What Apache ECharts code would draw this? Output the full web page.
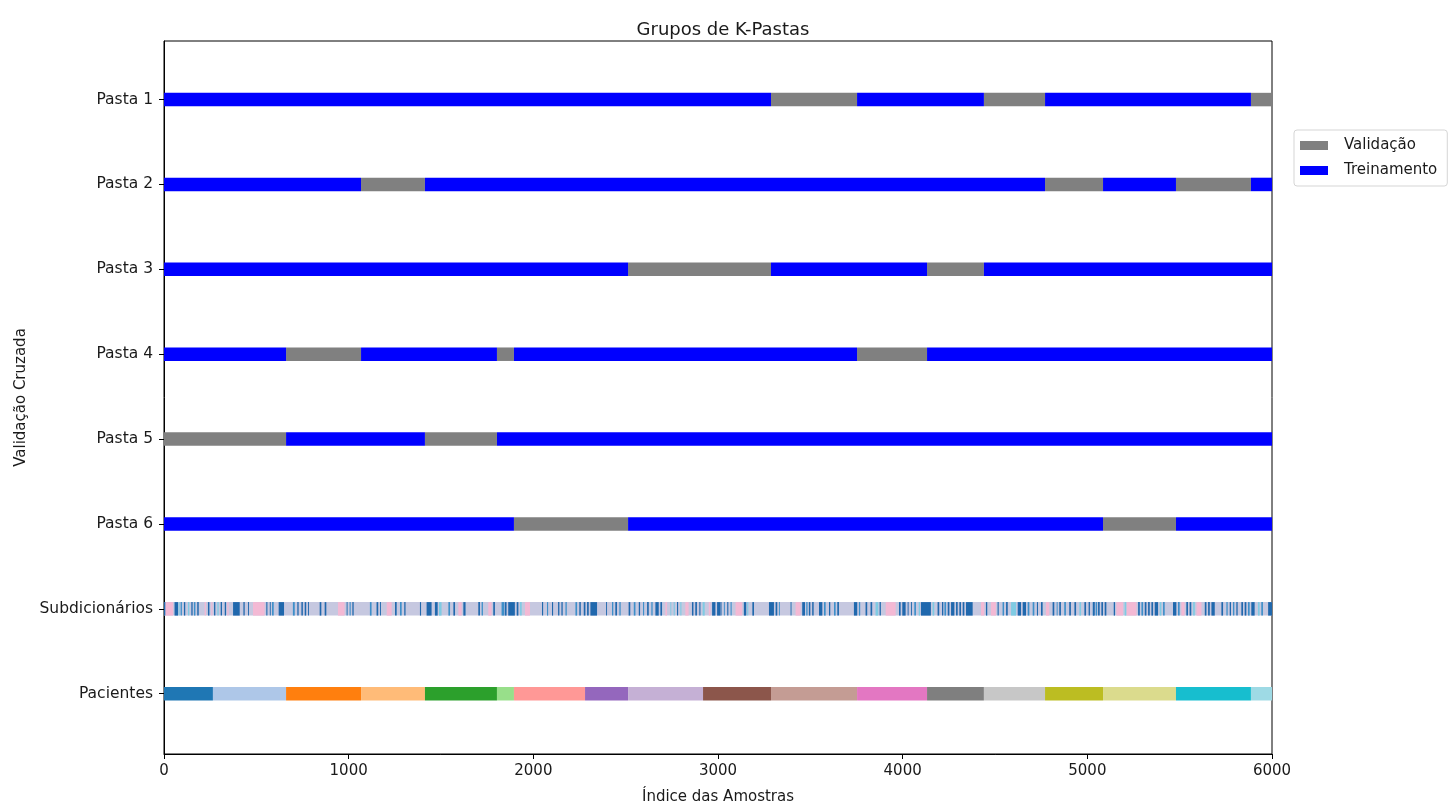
<!DOCTYPE html>
<html><head><meta charset="utf-8">
<script src="https://cdn.jsdelivr.net/npm/echarts@6/dist/echarts.min.js"></script>
<style>html,body{margin:0;padding:0;background:#fff}#c{width:1448px;height:810px}</style>
</head><body><div id="c"></div>
<script>
// ---- data ----
const rowLabels = ['Pasta 1','Pasta 2','Pasta 3','Pasta 4','Pasta 5','Pasta 6','Subdicionários','Pacientes'];
const rowPositions = [0.5,1.5,2.5,3.5,4.5,5.5,6.5,7.5];
const xTickMin = 0, xTickMax = 6000, xTickStep = 1000;
// patient group boundaries (sample index)
const groupBounds = [0,265,661,1067,1413,1803,1895,2280,2513,2919,3287,3753,4132,4440,4771,5085,5480,5886,6000];
const groupColors = ['#1f77b4','#aec7e8','#ff7f0e','#ffbb78','#2ca02c','#98df8a','#ff9896','#9467bd','#c5b0d5','#8c564b','#c49c94','#e377c2','#7f7f7f','#c7c7c7','#bcbd22','#dbdb8d','#17becf','#9edae5'];
// groups held out for validation in each fold
const foldValidationGroups = [[10,13,17],[3,14,16],[8,9,12],[2,5,11],[0,1,4],[6,7,15]];
// sub-dictionary class runs [start,end]
const subBase = [[0,6000]];
const subPink = [[7,49],[220,227],[256,262],[343,350],[482,545],[942,978],[1206,1233],[1594,1612],[1756,1774],[1955,1982],[2715,2724],[2823,2841],[2950,2959],[3095,3131],[3420,3447],[3908,3962],[4424,4442],[4478,4505],[4776,4794],[5157,5193],[5211,5266],[5509,5527],[5591,5618]];
const subDark = [[0,7],[57,76],[108,115],[148,155],[180,188],[238,246],[271,278],[307,314],[329,336],[374,410],[430,437],[455,460],[554,560],[573,578],[621,650],[722,729],[744,752],[762,770],[780,785],[843,852],[870,879],
 [989,994],[1020,1027],[1151,1160],[1170,1175],[1251,1260],[1301,1308],[1386,1392],[1422,1449],[1467,1482],[1567,1576],[1621,1633],[1702,1711],[1783,1792],[1846,1855],[1864,1900],[1910,1919],
 [2047,2053],[2101,2107],[2134,2141],[2152,2159],[2249,2257],[2273,2282],[2291,2300],[2309,2345],[2394,2399],[2444,2453],[2516,2525],[2571,2578],[2616,2625],[2661,2679],[2688,2697],[2778,2784],[2859,2867],[2877,2886],[2899,2905],[2968,2986],[2995,3013],
 [3014,3019],[3050,3056],[3140,3153],[3186,3195],[3276,3303],[3312,3321],[3393,3398],[3456,3471],[3492,3500],[3510,3518],[3547,3565],[3601,3608],[3646,3655],[3736,3754],[3799,3808],[3826,3835],[3875,3882],[3980,3989],[3998,4016],
 [4027,4032],[4045,4050],[4099,4153],[4189,4198],[4213,4220],[4244,4253],[4262,4280],[4289,4298],[4307,4316],[4325,4334],[4343,4379],[4451,4458],[4514,4520],[4560,4569],[4623,4641],[4650,4668],[4727,4733],[4749,4758],[4812,4821],[4848,4857],[4902,4911],[4930,4939],[4984,4993],[5007,5014],
 [5031,5040],[5058,5067],[5076,5085],[5094,5103],[5143,5150],[5275,5284],[5311,5320],[5329,5338],[5347,5356],[5365,5383],[5464,5482],[5536,5545],[5554,5563],[5636,5645],[5654,5663],[5672,5690],[5726,5735],[5771,5778],[5807,5814],[5834,5843],[5852,5861],[5888,5906],[5979,6000]];
const subBlue = [[90,97],[162,170],[585,594],[698,708],[1005,1011],[1115,1124],[1278,1287],[1540,1549],[1720,1727],[1828,1843],[2074,2080],[2174,2181],[2228,2237],[2426,2433],[2466,2473],[2544,2553],[2594,2600],[2639,2646],[3032,3037],[3068,3074],[3330,3335],[3478,3485],[3574,3583],[3628,3637],[3763,3770],[4063,4072],[4226,4235],[4541,4549],[4677,4686],[4704,4713],[4834,4839],[4875,4884],[5029,5038],[5045,5053],[5293,5302],[5410,5419],[5491,5500],[5753,5760],[5789,5796],[5870,5879],[5942,5951]];
const subCyan = [[79,85],[130,137],[289,296],[1489,1503],[1928,1937],[2742,2747],[2760,2766],[2796,2802],[2917,2928],[3158,3164],[3853,3868],[4087,4094],[4162,4171],[4587,4614],[4957,4966],[5202,5211],[5392,5401],[5573,5582],[5924,5933]];

// ---- build ----
const FONT = 'DejaVu Sans';
const TXT = '#1a1a1a';
const valData = [], trainData = [];
foldValidationGroups.forEach((vg, f) => {
  let runStart = groupBounds[0];
  let runVal = vg.indexOf(0) >= 0;
  for (let g = 1; g <= groupBounds.length - 1; g++) {
    const isEnd = g === groupBounds.length - 1;
    const nextVal = isEnd ? null : vg.indexOf(g) >= 0;
    if (isEnd || nextVal !== runVal) {
      (runVal ? valData : trainData).push([runStart, groupBounds[g], rowPositions[f]]);
      runStart = groupBounds[g];
      runVal = nextVal;
    }
  }
});
const groupData = groupColors.map((c, g) => ({value:[groupBounds[g], groupBounds[g+1], rowPositions[7]], itemStyle:{color:c}}));
const subData = [];
const addSub = (arr, color) => arr.forEach(r => subData.push({value:[r[0], r[1], rowPositions[6]], itemStyle:{color:color}}));
addSub(subBase, '#c6c8e0');
addSub(subPink, '#f3b9d4');
addSub(subCyan, '#7fcbe3');
addSub(subBlue, '#3d8fc9');
addSub(subDark, '#2068ad');

function renderSeg(params, api) {
  const s = api.coord([api.value(0), api.value(2)]);
  const e = api.coord([api.value(1), api.value(2)]);
  const h = 13.5;
  return {type:'rect', shape:{x:s[0], y:s[1]-h/2, width:Math.max(e[0]-s[0], 0.9), height:h},
          style:{fill: api.visual('color')}};
}
const seg = (name, data, color) => ({type:'custom', name:name, renderItem:renderSeg, data:data,
  encode:{x:[0,1], y:2}, itemStyle:{color:color}, animation:false, silent:true});

const chart = echarts.init(document.getElementById('c'), null, {renderer:'canvas'});
chart.setOption({
  animation:false,
  backgroundColor:'#fff',
  title:{text:'Grupos de K-Pastas', left:718, top:16, textAlign:'center',
    textStyle:{fontFamily:FONT, fontSize:18, fontWeight:'normal', color:TXT}},
  legend:{data:['Validação','Treinamento'], orient:'vertical', left:1294, top:130,
    icon:'rect', itemWidth:28, itemHeight:9, itemGap:10,
    padding:[8,10,8,6], borderColor:'#d5d5d5', borderWidth:1, borderRadius:3,
    textStyle:{fontFamily:FONT, fontSize:15, color:TXT, padding:[0,0,0,11]}},
  grid:{left:164, right:176, top:41, bottom:49, show:true, borderColor:'#000', borderWidth:1, backgroundColor:'#fff'},
  xAxis:{type:'value', min:xTickMin, max:xTickMax, interval:xTickStep,
    name:'Índice das Amostras', nameLocation:'middle', nameGap:36,
    nameTextStyle:{fontFamily:FONT, fontSize:15, color:TXT},
    axisLine:{show:true, onZero:false, lineStyle:{color:'#000'}},
    axisTick:{show:true, length:5, lineStyle:{color:'#000'}},
    axisLabel:{fontFamily:FONT, fontSize:15, color:TXT, margin:10, formatter: v => String(v)},
    splitLine:{show:false}},
  yAxis:{type:'value', min:-0.19, max:8.21, inverse:true,
    name:'Validação Cruzada', nameLocation:'middle', nameGap:134,
    nameTextStyle:{fontFamily:FONT, fontSize:15, color:TXT},
    axisLine:{show:true, onZero:false, lineStyle:{color:'#000'}},
    axisTick:{show:true, length:5, customValues:rowPositions, lineStyle:{color:'#000'}},
    axisLabel:{fontFamily:FONT, fontSize:15.5, color:TXT, margin:11, customValues:rowPositions,
      formatter: v => rowLabels[Math.round(v - 0.5)]},
    splitLine:{show:false}},
  series:[
    seg('Validação', valData, '#808080'),
    seg('Treinamento', trainData, '#0000ff'),
    {type:'custom', name:'Pacientes', renderItem:renderSeg, data:groupData, encode:{x:[0,1], y:2}, silent:true},
    {type:'custom', name:'Subdicionários', renderItem:renderSeg, data:subData, encode:{x:[0,1], y:2}, silent:true}
  ]
});
</script></body></html>
